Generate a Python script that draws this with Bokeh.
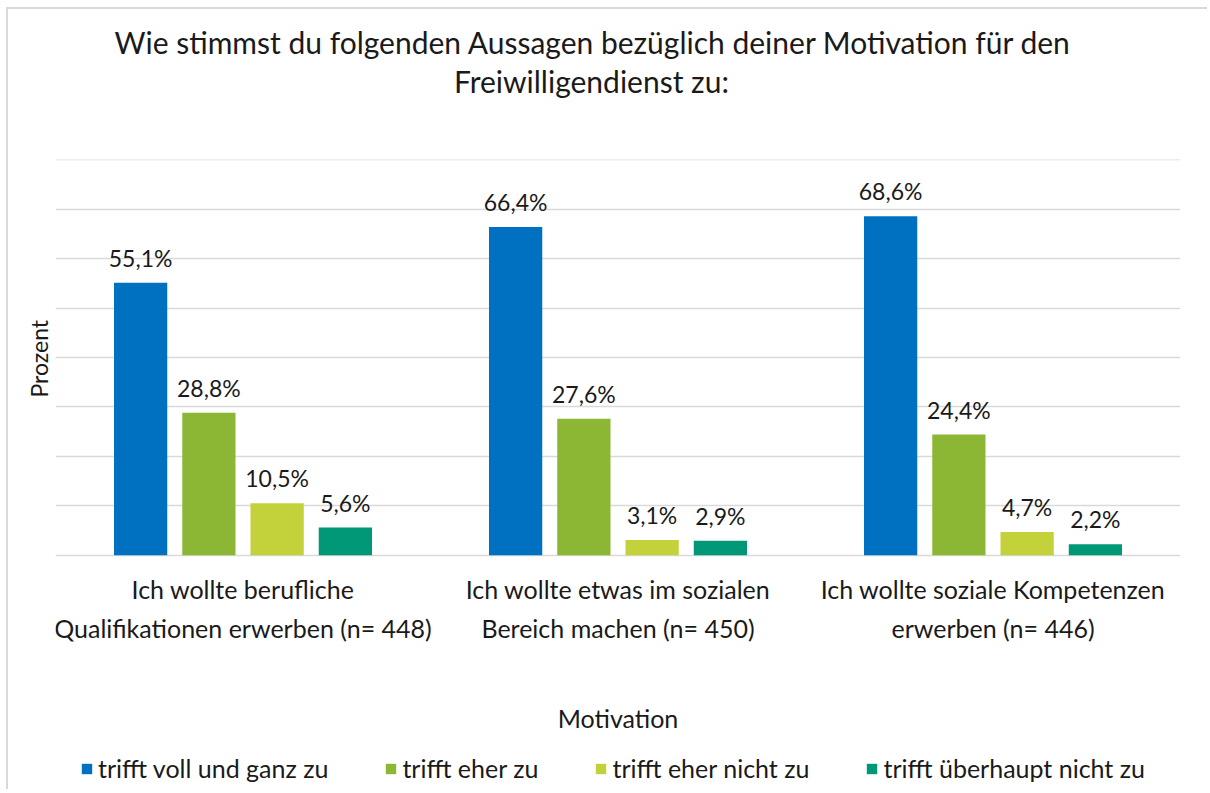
from bokeh.plotting import figure
from bokeh.models import (ColumnDataSource, FactorRange, Range1d, LabelSet, Title,
                          Legend, LegendItem, FixedTicker)
from bokeh.transform import dodge
from bokeh.embed import file_html
from bokeh.resources import INLINE
from bokeh.core.properties import value

FONT = "Lato"
TXT = "#1a1a1a"

# ---------------- data ----------------
categories = [
    "Ich wollte berufliche\nQualifikationen erwerben (n= 448)",
    "Ich wollte etwas im sozialen\nBereich machen (n= 450)",
    "Ich wollte soziale Kompetenzen\nerwerben (n= 446)",
]
series_names = [
    "trifft voll und ganz zu",
    "trifft eher zu",
    "trifft eher nicht zu",
    "trifft überhaupt nicht zu",
]
voll_und_ganz = [55.1, 66.4, 68.6]
eher_zu = [28.8, 27.6, 24.4]
eher_nicht = [10.5, 3.1, 4.7]
ueberhaupt_nicht = [5.6, 2.9, 2.2]
grid_values = [0, 10, 20, 30, 40, 50, 60, 70, 80]
colors = ["#0070C0", "#8CB735", "#C3D13B", "#009877"]
title_line1 = "Wie stimmst du folgenden Aussagen bezüglich deiner Motivation für den"
title_line2 = "Freiwilligendienst zu:"
y_label = "Prozent"
x_label = "Motivation"
# ---------------------------------------

values = [voll_und_ganz, eher_zu, eher_nicht, ueberhaupt_nicht]
offsets = [-0.273, -0.091, 0.091, 0.273]
bar_w = 0.142

# the frame reaches down to the legend; the value axis (0..80) uses its top 396 px
PLOT_PX = 396
FRAME_H = 630
y_top = 80.06
px_per_unit = PLOT_PX / 80.12
y_bottom = y_top - FRAME_H / px_per_unit

p = figure(frame_width=1125, frame_height=FRAME_H,
           x_range=FactorRange(*categories, range_padding=0),
           y_range=Range1d(y_bottom, y_top), output_backend="svg", toolbar_location=None,
           min_border_left=47, min_border_right=27, min_border_top=150,
           min_border_bottom=0)
p.title.text = ""
p.title.visible = False
p.outline_line_color = None
p.background_fill_color = "white"
p.border_fill_color = "white"

legend_items = []
for name, vals, off, col in zip(series_names, values, offsets, colors):
    src = ColumnDataSource(dict(cat=categories, val=vals,
                                lab=[(f"{v:.1f}%").replace(".", ",") for v in vals]))
    r = p.vbar(x=dodge("cat", off, range=p.x_range), top="val", bottom=0, width=bar_w,
               source=src, fill_color=col, line_color=None)
    legend_items.append(LegendItem(label=name, renderers=[r]))
    lbl = LabelSet(x=dodge("cat", off, range=p.x_range), y="val", text="lab", source=src,
                   text_align="center", text_baseline="alphabetic", y_offset=16,
                   text_font=value(FONT), text_font_size=value("23px"),
                   text_color=TXT)
    p.add_layout(lbl)

# grid
p.xgrid.grid_line_color = None
p.ygrid.ticker = FixedTicker(ticks=grid_values)
p.ygrid.grid_line_color = "#d9d9d9"
p.ygrid.grid_line_width = 1.5
p.yaxis.visible = False

# x axis sits at value 0
p.xaxis.fixed_location = 0
p.xaxis.axis_line_color = None
p.xaxis.major_tick_line_color = None
p.xaxis.minor_tick_line_color = None
p.xaxis.major_label_text_font = FONT
p.xaxis.major_label_text_font_size = "25px"
p.xaxis.major_label_text_color = TXT
p.xaxis.major_label_text_line_height = 1.3
p.xaxis.major_label_standoff = 13
p.xaxis.axis_label = x_label
p.xaxis.axis_label_text_font = FONT
p.xaxis.axis_label_text_font_size = "25px"
p.xaxis.axis_label_text_font_style = "normal"
p.xaxis.axis_label_text_color = TXT
p.xaxis.axis_label_standoff = 56

# "Prozent" (rotated), centred on the 0..80 value area
p.add_layout(Title(text=y_label, align="left", offset=FRAME_H - PLOT_PX / 2 - 40,
                   vertical_align="middle", standoff=4, text_font=FONT,
                   text_font_size="23px", text_font_style="normal", text_color=TXT),
             "left")

# legend at the bottom
legend = Legend(items=legend_items, orientation="horizontal", location=(25, 6),
                glyph_width=13, glyph_height=13, label_standoff=5, spacing=56,
                padding=0, margin=0, border_line_color=None,
                background_fill_alpha=0,
                label_text_font=FONT, label_text_font_size="25px",
                label_text_color=TXT)
p.add_layout(legend)

# title: spacer nearest the frame, then line 2, then line 1
title_center = 536.5        # px from the left edge of the plot frame
w1, w2 = 955, 276           # approx. rendered widths of the two title lines
p.add_layout(Title(text=" ", text_font_size="10px", standoff=46), "above")
p.add_layout(Title(text=title_line2, align="left", offset=title_center - w2 / 2,
                   vertical_align="middle", standoff=2, text_font=FONT,
                   text_font_size="30px", text_font_style="normal", text_color=TXT),
             "above")
p.add_layout(Title(text=title_line1, align="left", offset=title_center - w1 / 2,
                   vertical_align="middle", standoff=0, text_font=FONT,
                   text_font_size="30px", text_font_style="normal", text_color=TXT),
             "above")

p.styles = {"margin-left": "6px", "margin-top": "7px",
            "border-top": "2px solid #d9d9d9", "border-left": "2px solid #d9d9d9"}

open("out.html", "w").write(file_html(p, INLINE))
